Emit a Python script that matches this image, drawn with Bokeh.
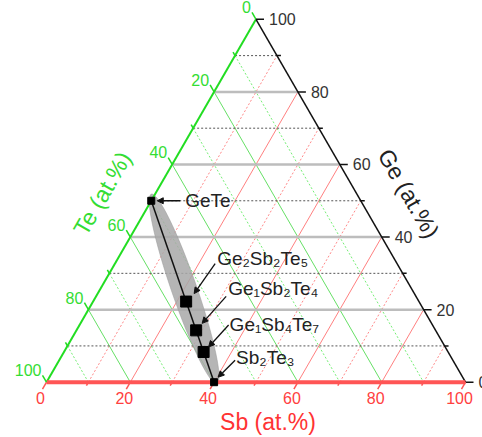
import math
from bokeh.plotting import figure
from bokeh.models import Range1d, Arrow, NormalHead
from bokeh.core.properties import value
from bokeh.embed import file_html
from bokeh.resources import INLINE

# ---------------- data ----------------
tick_values = [0, 10, 20, 30, 40, 50, 60, 70, 80, 90, 100]
label_values = [0, 20, 40, 60, 80, 100]
compounds = ["GeTe", "Ge₂Sb₂Te₅", "Ge₁Sb₂Te₄", "Ge₁Sb₄Te₇", "Sb₂Te₃"]
ge_pct = [50.0, 22.22, 14.29, 8.33, 0.0]
sb_pct = [0.0, 22.22, 28.57, 33.33, 40.0]
te_pct = [50.0, 55.56, 57.14, 58.33, 60.0]
# shaded region (ellipse) around the GeTe-Sb2Te3 tie line, in at.%
region_ge = 25.7
region_sb = 20.0
region_len = 47.9
region_wid = 6.0
title_sb = "Sb (at.%)"
title_te = "Te (at.%)"
title_ge = "Ge (at.%)"

# ---------------- geometry helpers ----------------
R3 = math.sqrt(3) / 2
SCALE = 419.0  # px per unit side
W, H = 482, 437


def tern(sb, ge):
    return sb / 100.0 + ge / 200.0, ge / 100.0 * R3


x0 = -46.0 / SCALE
y1 = 381.7 / SCALE
p = figure(width=W, height=H, output_backend="svg", toolbar_location=None,
           x_range=Range1d(x0, x0 + W / SCALE), y_range=Range1d(y1 - H / SCALE, y1),
           x_axis_type=None, y_axis_type=None, min_border=0)
p.outline_line_color = None
p.grid.visible = False
p.background_fill_color = "white"

FONT = value("Liberation Sans")
GREEN = "#22dd22"
GREEN_L = "#66e066"
RED = "#ff5555"
RED_L = "#ff8080"

# ---------------- grid ----------------
inner = [t for t in tick_values if 0 < t < 100]
for t in inner:
    major = t % 20 == 0
    # Te constant (green)
    a = tern(0, 100 - t); b = tern(100 - t, 0)
    p.line([a[0], b[0]], [a[1], b[1]], line_color=GREEN_L if major else "#77ee77",
           line_width=1, line_dash="solid" if major else "2 2")
    # Sb constant (red)
    a = tern(t, 0); b = tern(t, 100 - t)
    p.line([a[0], b[0]], [a[1], b[1]], line_color=RED_L if major else "#ff8a8a",
           line_width=1, line_dash="solid" if major else "2 2")
for t in inner:
    major = t % 20 == 0
    a = tern(0, t); b = tern(100 - t, t)
    if major:
        p.line([a[0], b[0]], [a[1], b[1]], line_color="#bdbdbd", line_width=2.5)
    else:
        p.line([a[0], b[0]], [a[1], b[1]], line_color="#555555", line_width=1, line_dash="2 2")

# ---------------- shaded region ----------------
ex, ey = tern(region_sb, region_ge)
s0 = tern(sb_pct[-1], ge_pct[-1]); s1 = tern(sb_pct[0], ge_pct[0])
ang = math.atan2(s1[1] - s0[1], s1[0] - s0[0])
p.ellipse(x=[ex], y=[ey], width=[region_len / 100.0], height=[region_wid / 100.0], angle=ang,
          fill_color="#a8a8a8", fill_alpha=0.85, line_color="#999999", line_width=0.5)

# ---------------- axes ----------------
BL = tern(0, 0); BR = tern(100, 0); TOP = tern(0, 100)
p.line([BL[0], TOP[0]], [BL[1], TOP[1]], line_color=GREEN, line_width=2)
p.line([TOP[0], BR[0]], [TOP[1], BR[1]], line_color="#111111", line_width=1.5)
p.line([BL[0], BR[0]], [BL[1], BR[1]], line_color=RED, line_width=4)

# ticks
for t in tick_values:
    L = (8.0 if t % 20 == 0 else 4.0) / SCALE
    # left (Te)
    a = tern(0, 100 - t)
    p.line([a[0], a[0] - 0.5 * L], [a[1], a[1] + R3 * L], line_color=GREEN, line_width=1.5)
    # bottom (Sb)
    a = tern(t, 0)
    p.line([a[0], a[0] - 0.5 * L], [a[1], a[1] - R3 * L], line_color=RED, line_width=1.5)
    # right (Ge)
    a = tern(100 - t, t)
    p.line([a[0], a[0] + L], [a[1], a[1]], line_color="#111111", line_width=1.5)

# tick labels
bx = [tern(t, 0)[0] for t in label_values]
by = [tern(t, 0)[1] for t in label_values]
p.text(x=bx, y=by, text=[str(t) for t in label_values], text_font=FONT, text_font_size="16px",
       text_color="#ff4040", text_align="center", text_baseline="top", x_offset=-6, y_offset=10)
lx = [tern(0, 100 - t)[0] for t in label_values]
ly = [tern(0, 100 - t)[1] for t in label_values]
p.text(x=lx, y=ly, text=[str(t) for t in label_values], text_font=FONT, text_font_size="16px",
       text_color="#33dd33", text_align="right", text_baseline="middle", x_offset=-5, y_offset=-12)
rv = label_values
rx = [tern(100 - t, t)[0] for t in rv]
ry = [tern(100 - t, t)[1] for t in rv]
p.text(x=rx, y=ry, text=[str(t) for t in rv], text_font=FONT, text_font_size="16px",
       text_color="#333333", text_align="left", text_baseline="middle", x_offset=13, y_offset=0)

# axis titles
mb = tern(50, 0)
p.text(x=[mb[0]], y=[mb[1]], text=[title_sb], text_font=FONT, text_font_size="23px",
       text_color="#ff3333", text_align="center", text_baseline="middle", x_offset=12, y_offset=40)
ml = tern(0, 52)
p.text(x=[ml[0]], y=[ml[1]], text=[title_te], text_font=FONT, text_font_size="23px",
       text_color="#33dd33", text_align="center", text_baseline="middle", angle=math.pi / 3,
       x_offset=-53, y_offset=0)
mr = tern(48, 52)
p.text(x=[mr[0]], y=[mr[1]], text=[title_ge], text_font=FONT, text_font_size="23px",
       text_color="#222222", text_align="center", text_baseline="middle", angle=-math.pi / 3,
       x_offset=52, y_offset=0)

# ---------------- tie line and compounds ----------------
px = [tern(s, g)[0] for s, g in zip(sb_pct, ge_pct)]
py = [tern(s, g)[1] for s, g in zip(sb_pct, ge_pct)]
p.line([px[0], px[-1]], [py[0], py[-1]], line_color="#111111", line_width=1.5)
sizes = [7, 11, 11, 11, 7]
p.scatter(x=px, y=py, marker="square", size=sizes, fill_color="black", line_color="black")

# label offsets (px): label (dx, dy), arrow start (dx, dy), arrow end (dx, dy); dy positive = down
lab_off = [(34, 0), (31, -43), (32, -42), (26, -27), (22, -25)]
arr_start = [(29, 0), (29, -38), (30, -34), (25, -27), (21, -22)]
arr_end = [(6, 0), (8, -8), (6, -7), (5, -5), (4, -5)]
for i, name in enumerate(compounds):
    p.text(x=[px[i]], y=[py[i]], text=[name], text_font=FONT, text_font_size="19px",
           text_color="#222222", text_align="left", text_baseline="middle",
           x_offset=lab_off[i][0], y_offset=lab_off[i][1])
    xs = px[i] + arr_start[i][0] / SCALE; ys = py[i] - arr_start[i][1] / SCALE
    xe = px[i] + arr_end[i][0] / SCALE; ye = py[i] - arr_end[i][1] / SCALE
    p.add_layout(Arrow(end=NormalHead(size=6, fill_color="#111111", line_color="#111111"),
                       x_start=xs, y_start=ys, x_end=xe, y_end=ye,
                       line_color="#111111", line_width=1.3))

open("out.html", "w").write(file_html(p, INLINE))
